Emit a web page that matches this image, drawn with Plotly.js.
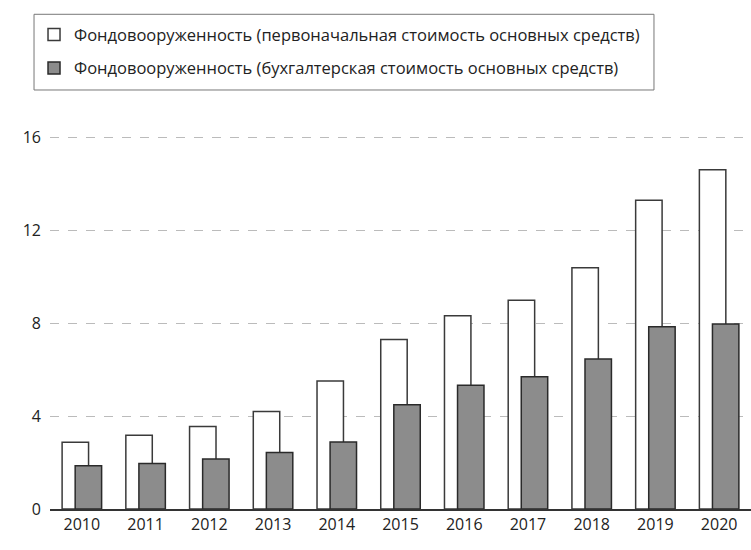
<!DOCTYPE html>
<html>
<head>
<meta charset="utf-8">
<script src="https://cdn.plot.ly/plotly-3.0.1.min.js"></script>
<style>html,body{margin:0;padding:0;background:#fff;}</style>
</head>
<body>
<div id="chart" style="width:751px;height:550px;"></div>
<script>
const years = ['2010','2011','2012','2013','2014','2015','2016','2017','2018','2019','2020'];
const initialCost = [2.88, 3.18, 3.55, 4.20, 5.52, 7.30, 8.33, 8.99, 10.39, 13.30, 14.62];
const bookCost = [1.86, 1.96, 2.15, 2.43, 2.89, 4.49, 5.33, 5.70, 6.46, 7.85, 7.97];
const seriesNames = [
  'Фондовооруженность (первоначальная стоимость основных средств)',
  'Фондовооруженность (бухгалтерская стоимость основных средств)'
];
const yTicks = [0, 4, 8, 12, 16];

const FONT = 'Open Sans, Noto Sans, sans-serif';

const traces = [
  {
    type: 'bar', x: years, y: initialCost, name: seriesNames[0], legendgroup: 'a',
    width: 0.415, offset: -0.31,
    marker: {color: '#ffffff', line: {color: '#3a3a3a', width: 1.5}}
  },
  {
    type: 'bar', x: years, y: bookCost, name: seriesNames[1], legendgroup: 'b',
    width: 0.415, offset: -0.105,
    marker: {color: '#8c8c8c', line: {color: '#2a2a2a', width: 1.5}}
  }
];

const layout = {
  width: 751, height: 550,
  margin: {l: 50, r: 0, t: 133, b: 41, pad: 0},
  paper_bgcolor: '#ffffff', plot_bgcolor: '#ffffff',
  barmode: 'overlay',
  font: {family: FONT, size: 16, color: '#222222'},
  showlegend: true,
  legend: {
    x: -0.0228, xanchor: 'left', y: 1.3077, yanchor: 'top',
    bgcolor: 'rgba(0,0,0,0)', borderwidth: 0,
    font: {family: FONT, size: 16.5, color: '#222222'},
    traceorder: 'grouped', tracegroupgap: 9
  },
  shapes: [{
    type: 'rect', xref: 'paper', yref: 'paper',
    x0: -0.0228, x1: 0.8616, y0: 1.1144, y1: 1.3157,
    line: {color: '#777777', width: 1}, fillcolor: 'rgba(0,0,0,0)', layer: 'below'
  }],
  xaxis: {
    type: 'category', range: [-0.5, 10.5],
    showgrid: false, zeroline: false,
    showline: true, linecolor: '#333333', linewidth: 2,
    ticks: '', tickfont: {family: FONT, size: 16, color: '#222222'}
  },
  yaxis: {
    range: [0, 16.2], tickvals: yTicks, ticktext: yTicks.map(String),
    showgrid: true, gridcolor: '#bbbbbb', griddash: 'dash', gridwidth: 1,
    zeroline: false, showline: false, ticks: '',
    tickfont: {family: FONT, size: 16, color: '#222222'}, ticklabelstandoff: 8
  }
};

Plotly.newPlot('chart', traces, layout, {displayModeBar: false, staticPlot: true});
</script>
</body>
</html>
